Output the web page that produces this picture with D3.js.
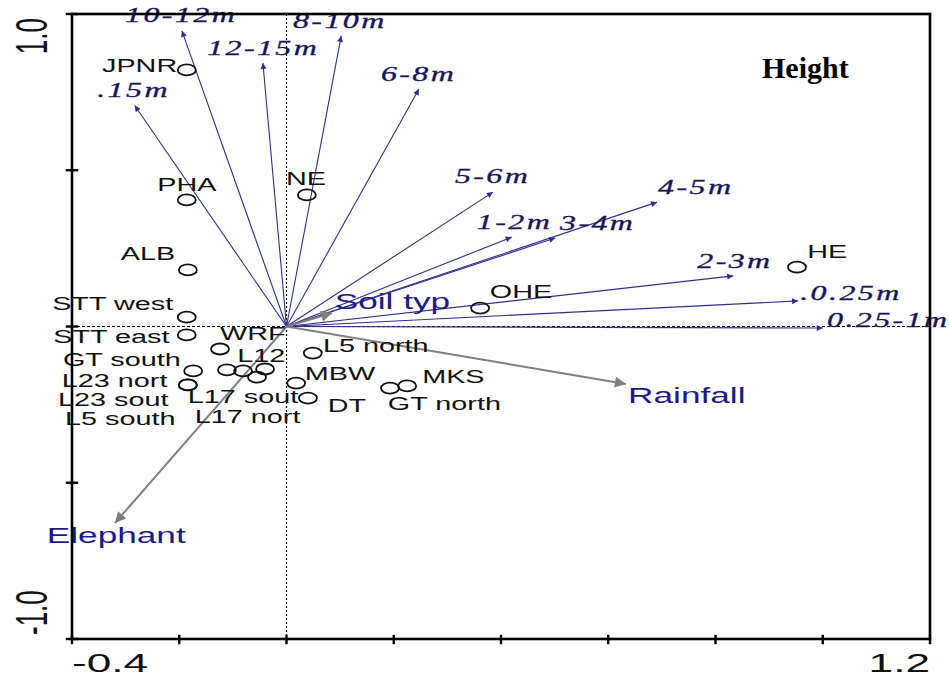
<!DOCTYPE html>
<html><head><meta charset="utf-8">
<script src="https://cdn.jsdelivr.net/npm/d3@7"></script>
<style>body{margin:0;background:#fff}svg{display:block}</style>
</head><body>
<svg id="chart" width="949" height="677"></svg>
<script>
// ---- data (ordination scores) ----
const speciesNames = [".15m","10-12m","12-15m","8-10m","6-8m","5-6m","4-5m","1-2m","3-4m","2-3m",".0.25m","0.25-1m"];
const speciesX     = [-0.283,-0.195,-0.044,0.102,0.247,0.385,0.691,0.420,0.501,0.833,0.954,1.000];
const speciesY     = [0.707,0.946,0.843,0.930,0.760,0.430,0.398,0.286,0.283,0.162,0.082,-0.005];
const speciesLabX  = [-0.353,-0.301,-0.148,0.012,0.176,0.314,0.693,0.355,0.510,0.766,0.958,1.008];
const speciesLabY  = [0.734,0.974,0.869,0.955,0.786,0.459,0.424,0.312,0.309,0.187,0.085,-0.001];

const envNames = ["Soil typ","Rainfall","Elephant"];
const envX     = [0.085,0.633,-0.320];
const envY     = [0.043,-0.184,-0.629];
const envLabX  = [0.090,0.637,-0.447];
const envLabY  = [0.056,-0.245,-0.693];

const siteNames = ["JPNR","PHA","NE","ALB","STT west","STT east","WRF","L12","L17 sout","L17 nort","GT south","L23 nort","L23 sout","L5 south","L5 north","MBW","DT","GT north","MKS","OHE","HE"];
const siteX     = [-0.186,-0.186,0.038,-0.184,-0.186,-0.186,-0.124,-0.081,-0.040,-0.055,-0.174,-0.184,-0.111,-0.184,0.049,0.018,0.040,0.193,0.225,0.361,0.952];
const siteY     = [0.821,0.405,0.421,0.181,0.030,-0.027,-0.072,-0.142,-0.136,-0.162,-0.142,-0.187,-0.139,-0.187,-0.085,-0.181,-0.229,-0.197,-0.190,0.059,0.190];
const siteLabX  = [-0.344,-0.241,-0.001,-0.309,-0.437,-0.435,-0.124,-0.092,-0.184,-0.171,-0.417,-0.419,-0.426,-0.413,0.068,0.034,0.077,0.189,0.253,0.379,0.971];
const siteLabY  = [0.814,0.433,0.453,0.213,0.053,-0.053,-0.043,-0.114,-0.245,-0.309,-0.126,-0.194,-0.254,-0.315,-0.082,-0.171,-0.274,-0.267,-0.181,0.091,0.219];

const xTicks = [-0.4,-0.2,0,0.2,0.4,0.6,0.8,1.0,1.2];
const yTicks = [-1.0,-0.5,0,0.5,1.0];
const xTickLabels = [{v:-0.4,t:"-0.4",a:"start"},{v:1.2,t:"1.2",a:"end"}];
const yTickLabels = [{v:1.0,t:"1.0",a:"end"},{v:-1.0,t:"-1.0",a:"start"}];
const title = "Height";

// ---- drawing ----
const svg = d3.select("#chart");
const x = d3.scaleLinear().domain([-0.4,1.2]).range([72,930]);
const y = d3.scaleLinear().domain([-1,1]).range([639,14]);
const SX = 1.6; // horizontal stretch of glyphs seen in reference

const NAVY = "#2e2e90", NAVYTXT = "#16165a", GRAY = "#7f7f7f";

const defs = svg.append("defs");
defs.append("marker").attr("id","sp").attr("markerUnits","userSpaceOnUse")
  .attr("viewBox","0 0 10 10").attr("refX",10).attr("refY",5)
  .attr("markerWidth",8).attr("markerHeight",6).attr("orient","auto")
  .append("path").attr("d","M0,0L10,5L0,10Z").attr("fill",NAVY);
defs.append("marker").attr("id","env").attr("markerUnits","userSpaceOnUse")
  .attr("viewBox","0 0 10 10").attr("refX",10).attr("refY",5)
  .attr("markerWidth",20).attr("markerHeight",11).attr("orient","auto")
  .append("path").attr("d","M0,0L10,5L0,10Z").attr("fill",GRAY);

function stretchedText(g, px, py, txt, anchor, sx){
  return g.append("text").attr("transform",`translate(${px},${py}) scale(${sx},1)`)
    .attr("text-anchor",anchor||"start").text(txt);
}

// dotted zero lines
svg.append("line").attr("x1",x(0)).attr("x2",x(0)).attr("y1",y(1)).attr("y2",y(-1))
  .attr("stroke","#000").attr("stroke-width",1.2).attr("stroke-dasharray","2,2");
svg.append("line").attr("x1",x(-0.4)).attr("x2",x(1.2)).attr("y1",y(0)).attr("y2",y(0))
  .attr("stroke","#000").attr("stroke-width",1.2).attr("stroke-dasharray","3,2");

// species arrows
const gSp = svg.append("g");
speciesNames.forEach((n,i)=>{
  gSp.append("line").attr("x1",x(0)).attr("y1",y(0)).attr("x2",x(speciesX[i])).attr("y2",y(speciesY[i]))
    .attr("stroke",NAVY).attr("stroke-width",1.1).attr("marker-end","url(#sp)");
});

// environmental arrows
const gEnv = svg.append("g");
envNames.forEach((n,i)=>{
  gEnv.append("line").attr("x1",x(0)).attr("y1",y(0)).attr("x2",x(envX[i])).attr("y2",y(envY[i]))
    .attr("stroke",GRAY).attr("stroke-width",2).attr("marker-end","url(#env)");
});

// sites
const gSite = svg.append("g");
siteNames.forEach((n,i)=>{
  gSite.append("ellipse").attr("cx",x(siteX[i])).attr("cy",y(siteY[i])).attr("rx",9).attr("ry",5.5)
    .attr("fill","none").attr("stroke","#111").attr("stroke-width",1.8);
});

// labels
const gLab = svg.append("g");
speciesNames.forEach((n,i)=>{
  stretchedText(gLab, x(speciesLabX[i]), y(speciesLabY[i]), n, "start", SX)
    .attr("font-family","'Liberation Serif','Times New Roman',serif").attr("font-style","italic")
    .attr("font-size",20).attr("letter-spacing",1.5).attr("fill",NAVYTXT)
    .attr("stroke",NAVYTXT).attr("stroke-width",0.3);
});
envNames.forEach((n,i)=>{
  stretchedText(gLab, x(envLabX[i]), y(envLabY[i]), n, "start", SX)
    .attr("font-family","'Liberation Sans',Arial,sans-serif").attr("font-size",22).attr("fill","#1a1a8c");
});
siteNames.forEach((n,i)=>{
  stretchedText(gLab, x(siteLabX[i]), y(siteLabY[i]), n, "start", SX)
    .attr("font-family","'Liberation Sans',Arial,sans-serif").attr("font-size",18).attr("fill","#111");
});

// frame
const gAx = svg.append("g").attr("stroke","#000").attr("stroke-linecap","square");
gAx.append("rect").attr("x",x(-0.4)).attr("y",y(1)).attr("width",x(1.2)-x(-0.4)).attr("height",y(-1)-y(1))
  .attr("fill","none").attr("stroke-width",2.6);
xTicks.forEach(v=>{
  gAx.append("line").attr("x1",x(v)).attr("x2",x(v)).attr("y1",y(-1)-3).attr("y2",y(-1)+4).attr("stroke-width",2.4);
});
yTicks.forEach(v=>{
  gAx.append("line").attr("x1",x(-0.4)-5).attr("x2",x(-0.4)+5).attr("y1",y(v)).attr("y2",y(v)).attr("stroke-width",2.4);
});
xTickLabels.forEach(d=>{
  stretchedText(svg, x(d.v), 672, d.t, d.a, 1.7)
    .attr("font-family","'Liberation Sans',Arial,sans-serif").attr("font-size",26).attr("fill","#111");
});
yTickLabels.forEach(d=>{
  const py = d.v>0 ? y(d.v)+4 : y(d.v)-4;
  svg.append("text").attr("transform",`translate(47,${py}) scale(1.7,1) rotate(-90)`)
    .attr("text-anchor",d.a).text(d.t)
    .attr("font-family","'Liberation Sans',Arial,sans-serif").attr("font-size",26).attr("fill","#111");
});

// title
svg.append("text").attr("x",762).attr("y",78)
  .attr("font-family","'Liberation Serif','Times New Roman',serif").attr("font-weight","bold")
  .attr("font-size",30).attr("fill","#000").text(title);
</script>
</body></html>
